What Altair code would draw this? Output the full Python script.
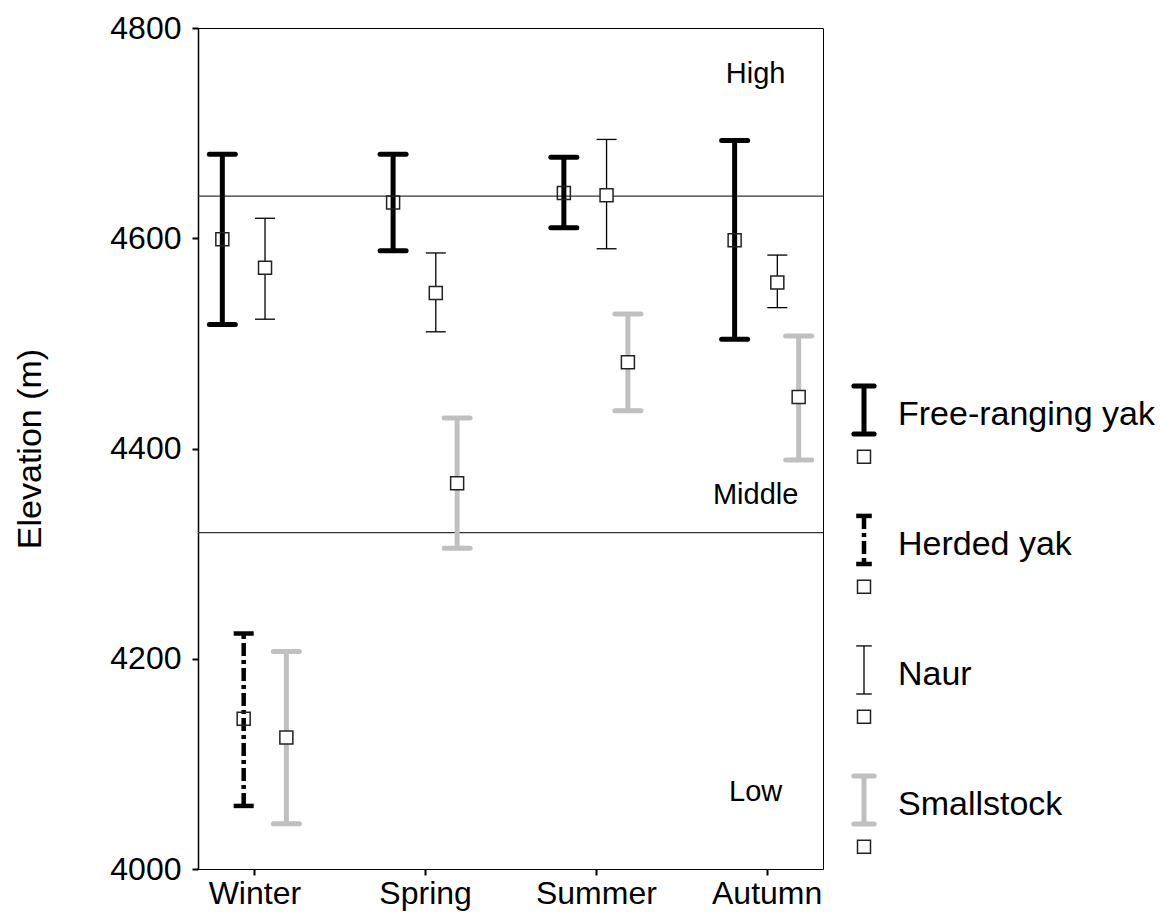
import json
import altair as alt
import pandas as pd

# ---------------- data ----------------
seasons = ["Winter", "Spring", "Summer", "Autumn"]
series_names = ["Free-ranging yak", "Herded yak", "Naur", "Smallstock"]

free_mean = [4599, 4634, 4643, 4598]
free_lo = [4518, 4588, 4610, 4504]
free_hi = [4680, 4680, 4677, 4693]

herded_mean = [4143, None, None, None]
herded_lo = [4060, None, None, None]
herded_hi = [4224, None, None, None]

naur_mean = [4572, 4548, 4641, 4558]
naur_lo = [4523, 4511, 4590, 4534]
naur_hi = [4619, 4586, 4694, 4584]

small_mean = [4125, 4367, 4482, 4449]
small_lo = [4043, 4305, 4436, 4389]
small_hi = [4207, 4429, 4528, 4507]

zone_bounds = [4640, 4320]
zone_names = ["High", "Middle", "Low"]
zone_label_elev = [4756, 4356, 4073]

y_ticks = [4000, 4200, 4400, 4600, 4800]

# ---------------- styles ----------------
FONT = "Liberation Sans"
styles = {
    "Free-ranging yak": dict(color="#000000", width=5, dash=[1, 0], cap=13, capstyle="round", fill=0),
    "Herded yak": dict(color="#000000", width=4.5, dash=[13, 4, 4, 4], cap=10, capstyle="butt", fill=0),
    "Naur": dict(color="#000000", width=1.3, dash=[1, 0], cap=10, capstyle="butt", fill=1),
    "Smallstock": dict(color="#c0c0c0", width=5, dash=[1, 0], cap=13, capstyle="round", fill=1),
}
SLOT = 0.125
PAD = 0.33

means = {"Free-ranging yak": free_mean, "Herded yak": herded_mean, "Naur": naur_mean, "Smallstock": small_mean}
los = {"Free-ranging yak": free_lo, "Herded yak": herded_lo, "Naur": naur_lo, "Smallstock": small_lo}
his = {"Free-ranging yak": free_hi, "Herded yak": herded_hi, "Naur": naur_hi, "Smallstock": small_hi}

rows = []
for si, name in enumerate(series_names):
    for k, season in enumerate(seasons):
        if means[name][k] is None:
            continue
        rows.append(dict(season=season, series=name, mean=means[name][k],
                         lo=los[name][k], hi=his[name][k],
                         xpos=k + (si - 1.5) * SLOT))
df = pd.DataFrame(rows)

xscale = alt.Scale(domain=[-PAD, len(seasons) - 1 + PAD], nice=False, zero=False)
yscale = alt.Scale(domain=[4000, 4800], nice=False, zero=False)

xaxis = alt.Axis(values=list(range(len(seasons))),
                 labelExpr=json.dumps(seasons) + "[datum.value]",
                 grid=False, tickSize=6, tickWidth=2, tickColor="black",
                 domainColor="black", domainWidth=1,
                 labelFontSize=32, labelColor="black", labelPadding=3,
                 labelFont=FONT)
yaxis = alt.Axis(values=y_ticks, format="d", grid=False, tickSize=6, tickWidth=2,
                 tickColor="black", domainColor="black", domainWidth=1.5,
                 labelFontSize=32, labelColor="black", labelPadding=11, labelFont=FONT,
                 titleFontSize=34, titleFontWeight="normal", titleColor="black",
                 titlePadding=62, titleFont=FONT)

YT = "Elevation (m)"

def X(field):
    return alt.X(field, type="quantitative", scale=xscale, axis=xaxis, title=None)

def Y(field):
    return alt.Y(field, type="quantitative", scale=yscale, axis=yaxis, title=YT)

bounds_df = pd.DataFrame({"elev": zone_bounds})
zone_rules = alt.Chart(bounds_df).mark_rule(color="#333333", strokeWidth=1.2).encode(y=Y("elev"))

zones_df = pd.DataFrame({"name": zone_names, "elev": zone_label_elev})
zone_text = alt.Chart(zones_df).mark_text(fontSize=29, font=FONT, color="black", dx=-11).encode(
    x=alt.datum(len(seasons) - 1, type="quantitative", scale=xscale, axis=xaxis, title=None),
    y=Y("elev"), text="name:N")

layers = [zone_rules, zone_text]
square_layers = []
for name in series_names:
    st = styles[name]
    sub = df[df.series == name]
    base = alt.Chart(sub)
    bar = base.mark_rule(color=st["color"], strokeWidth=st["width"], strokeDash=st["dash"]).encode(
        x=X("xpos"), y=Y("lo"), y2="hi:Q")
    cap_hi = base.mark_rule(color=st["color"], strokeWidth=st["width"], strokeCap=st["capstyle"],
                            xOffset=-st["cap"], x2Offset=st["cap"]).encode(
        x=X("xpos"), x2="xpos:Q", y=Y("hi"))
    cap_lo = base.mark_rule(color=st["color"], strokeWidth=st["width"], strokeCap=st["capstyle"],
                            xOffset=-st["cap"], x2Offset=st["cap"]).encode(
        x=X("xpos"), x2="xpos:Q", y=Y("lo"))
    sq = base.mark_square(size=169, stroke="#222222", strokeWidth=1.5, fill="white",
                          fillOpacity=st["fill"], opacity=1).encode(x=X("xpos"), y=Y("mean"))
    layers += [bar, cap_hi, cap_lo]
    square_layers.append(sq)

main = alt.layer(*(layers + square_layers)).properties(width=625, height=841)

# ---------------- legend panel ----------------
leg_df = pd.DataFrame({"series": series_names, "idx": list(range(len(series_names)))})
leg_df["top"] = leg_df["idx"] - 0.185
leg_df["bot"] = leg_df["idx"] + 0.185
leg_df["sq"] = leg_df["idx"] + 0.36
leg_df["txt"] = leg_df["idx"] + 0.04
lscale = alt.Scale(domain=[3.531, -2.938], nice=False, zero=False)
LX = 30
leg_layers = []
leg_sq = []
for name in series_names:
    st = styles[name]
    sub = leg_df[leg_df.series == name]
    b = alt.Chart(sub)
    capw = st["cap"] * 0.78
    leg_layers.append(b.mark_rule(color=st["color"], strokeWidth=st["width"], strokeDash=st["dash"]).encode(
        x=alt.value(LX), y=alt.Y("top:Q", scale=lscale, axis=None), y2="bot:Q"))
    for f in ["top", "bot"]:
        leg_layers.append(b.mark_rule(color=st["color"], strokeWidth=st["width"], strokeCap=st["capstyle"],
                                      xOffset=-capw, x2Offset=capw).encode(
            x=alt.value(LX), x2=alt.value(LX), y=alt.Y(f + ":Q", scale=lscale, axis=None)))
    leg_sq.append(b.mark_square(size=169, stroke="#222222", strokeWidth=1.5, fill="white",
                                fillOpacity=0).encode(
        x=alt.value(LX), y=alt.Y("sq:Q", scale=lscale, axis=None)))
leg_text = alt.Chart(leg_df).mark_text(align="left", baseline="middle", fontSize=34, font=FONT,
                                       color="black").encode(
    x=alt.value(64), y=alt.Y("txt:Q", scale=lscale, axis=None), text="series:N")

legend = alt.layer(*(leg_layers + leg_sq + [leg_text])).properties(
    width=290, height=841, view=alt.ViewBackground(stroke="transparent"))

chart = alt.hconcat(main, legend, spacing=8).resolve_scale(x="independent", y="independent").properties(
    padding={"left": 5, "top": 3, "right": 5, "bottom": 5}).configure(
    font=FONT).configure_view(stroke="black", strokeWidth=1)

chart.save("out.html", embed_options={"renderer": "svg", "actions": False})
